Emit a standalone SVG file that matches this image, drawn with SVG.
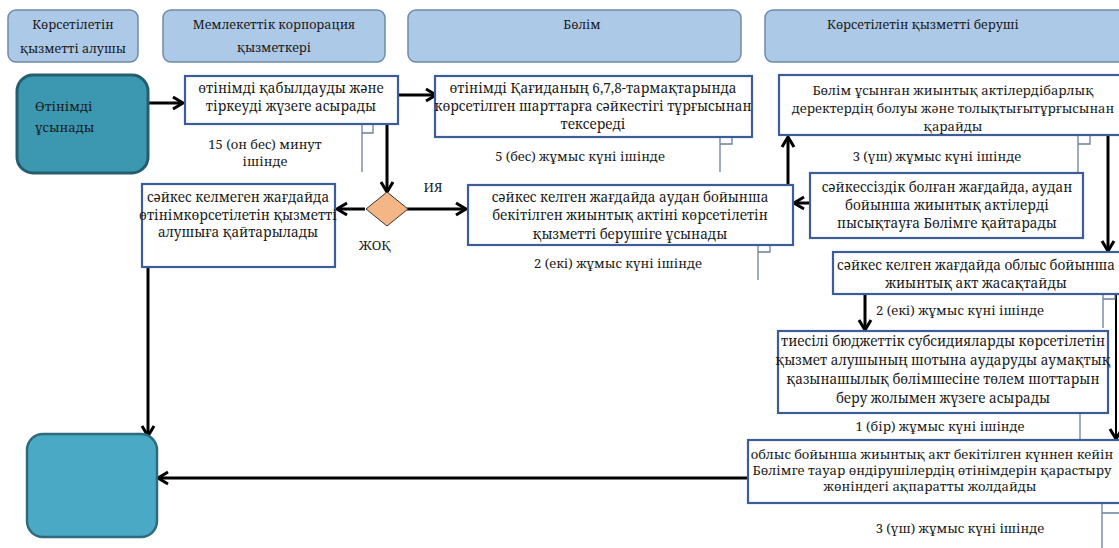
<svg xmlns="http://www.w3.org/2000/svg" width="1119" height="548" viewBox="0 0 1119 548">
<style>
text{fill:#1a1a1a;font-family:"Noto Serif","DejaVu Serif",serif;}
.hd{fill:#adc9e8;stroke:#6e8aa8;stroke-width:1.5;}
.hdt{font-size:12.5px;text-anchor:middle;}
.bx{fill:#fff;stroke:#3c5d99;stroke-width:2.2;}
.bt{font-size:13.5px;text-anchor:middle;}
.lb{font-size:13px;text-anchor:middle;}
.cn{fill:none;stroke:#000;stroke-width:3;}
.cn2{fill:none;stroke:#000;stroke-width:2;}
.br{fill:none;stroke:#6c7f9c;stroke-width:1.3;}
</style>
<defs>
<marker id="ah" markerUnits="userSpaceOnUse" markerWidth="16" markerHeight="16" viewBox="0 0 16 16" refX="13" refY="8" orient="auto">
<path d="M3,2 L13,8 L3,14" fill="none" stroke="#000" stroke-width="3"/>
</marker>
</defs>
<rect width="1119" height="548" fill="#fff"/>

<g id="lane-recipient"><rect class="hd" x="8" y="10" width="130" height="52" rx="8"/>
<text class="hdt" x="73" y="29">Көрсетілетін</text><text class="hdt" x="73" y="53">қызметті алушы</text></g>
<g id="lane-corp"><rect class="hd" x="163" y="10" width="222" height="52" rx="8"/>
<text class="hdt" x="274" y="29">Мемлекеттік корпорация</text><text class="hdt" x="274" y="52">қызметкері</text></g>
<g id="lane-dept"><rect class="hd" x="408" y="10" width="333" height="52" rx="8"/>
<text class="hdt" x="582" y="29">Бөлім</text></g>
<g id="lane-provider"><rect class="hd" x="765" y="10" width="370" height="52" rx="8"/>
<text class="hdt" x="923" y="29">Көрсетілетін қызметті беруші</text></g>

<g id="connectors">
<line class="cn" x1="148" y1="103" x2="183" y2="103" marker-end="url(#ah)"/>
<line class="cn" x1="398" y1="95" x2="436" y2="95" marker-end="url(#ah)"/>
<line class="cn" x1="387" y1="124" x2="387" y2="192" marker-end="url(#ah)"/>
<line class="cn" x1="407" y1="209" x2="466" y2="209" marker-end="url(#ah)"/>
<line class="cn" x1="365" y1="209" x2="337" y2="209" marker-end="url(#ah)"/>
<line class="cn" x1="148" y1="267" x2="148" y2="436" marker-end="url(#ah)"/>
<line class="cn" x1="788" y1="185" x2="788" y2="137" marker-end="url(#ah)"/>
<line class="cn" x1="810" y1="203" x2="794" y2="203" marker-end="url(#ah)"/>
<line class="cn" x1="1108" y1="135" x2="1108" y2="251" marker-end="url(#ah)"/>
<line class="cn" x1="865" y1="294" x2="865" y2="330" marker-end="url(#ah)"/>
<line class="cn2" x1="1116" y1="294" x2="1116" y2="439" marker-end="url(#ah)"/>
<line class="cn" x1="748" y1="478" x2="158" y2="478" marker-end="url(#ah)"/>
</g>

<g id="brackets">
<path class="br" d="M362,124 V172 M362,133 H373 V124"/>
<path class="br" d="M720,137 V172 M720,144 H732 V137"/>
<path class="br" d="M758,245 V280 M758,252 H770 V245"/>
<path class="br" d="M1078,135 V172 M1078,144 H1090 V135"/>
<path class="br" d="M1103,294 V328 M1103,299 H1115 V294"/>
<path class="br" d="M1080,402 V440 M1080,402 H1093 V413"/>
<path class="br" d="M1102,503 V548 M1102,513 H1119"/>
</g>

<g id="start"><rect x="17" y="75" width="131" height="98" rx="16" fill="#3b98b0" stroke="#245e6e" stroke-width="3"/>
<text x="35" y="111" style="font-size:13px">Өтінімді</text><text x="35" y="132" style="font-size:13px">ұсынады</text></g>

<g id="box-a"><rect class="bx" x="185" y="76" width="213" height="48"/>
<text class="bt" x="291" y="93">өтінімді қабылдауды және</text><text class="bt" x="291" y="111">тіркеуді жүзеге асырады</text></g>
<g id="time-a"><text class="lb" x="265" y="149">15 (он бес) минут</text><text class="lb" x="265" y="166">ішінде</text></g>

<g id="box-b"><rect class="bx" x="435" y="76" width="317" height="61"/>
<text class="bt" x="593" y="93">өтінімді Қағиданың 6,7,8-тармақтарында</text>
<text class="bt" x="593" y="111">көрсетілген шарттарға сәйкестігі тұрғысынан</text>
<text class="bt" x="593" y="129">тексереді</text></g>
<text class="lb" x="580" y="161">5 (бес) жұмыс күні ішінде</text>

<g id="decision"><path d="M387,192 L408,209 L387,226 L366,209 Z" fill="#f5b687" stroke="#333" stroke-width="1"/></g>
<text class="lb" x="433" y="192">ИЯ</text>
<text class="lb" x="375" y="250">ЖОҚ</text>

<g id="box-c"><rect class="bx" x="142" y="184" width="193" height="83"/>
<text class="bt" x="238" y="202">сәйкес келмеген жағдайда</text>
<text class="bt" x="238" y="220">өтінімкөрсетілетін қызметті</text>
<text class="bt" x="238" y="237">алушыға қайтарылады</text></g>

<g id="box-d"><rect class="bx" x="468" y="185" width="325" height="60"/>
<text class="bt" x="630" y="202">сәйкес келген жағдайда аудан бойынша</text>
<text class="bt" x="630" y="220">бекітілген жиынтық актіні көрсетілетін</text>
<text class="bt" x="630" y="239">қызметті берушіге ұсынады</text></g>
<text class="lb" x="618" y="268">2 (екі) жұмыс күні ішінде</text>

<g id="box-e"><rect class="bx" x="779" y="75" width="360" height="60"/>
<text class="bt" x="953" y="95" style="font-size:13px">Бөлім ұсынған жиынтық актілердібарлық</text>
<text class="bt" x="953" y="113" style="font-size:13px">деректердің болуы және толықтығытұрғысынан</text>
<text class="bt" x="953" y="131" style="font-size:13px">қарайды</text></g>
<text class="lb" x="937" y="161">3 (үш) жұмыс күні ішінде</text>

<g id="box-f"><rect class="bx" x="810" y="173" width="273" height="65"/>
<text class="bt" x="947" y="192">сәйкессіздік болған жағдайда, аудан</text>
<text class="bt" x="947" y="210">бойынша жиынтық актілерді</text>
<text class="bt" x="947" y="228">пысықтауға Бөлімге қайтарады</text></g>

<g id="box-g"><rect class="bx" x="833" y="252" width="300" height="42"/>
<text class="bt" x="976" y="270">сәйкес келген жағдайда облыс бойынша</text>
<text class="bt" x="976" y="288">жиынтық акт жасақтайды</text></g>
<text class="lb" x="960" y="315">2 (екі) жұмыс күні ішінде</text>

<g id="box-h"><rect class="bx" x="778" y="331" width="330" height="82"/>
<text class="bt" x="943" y="346">тиесілі бюджеттік субсидияларды көрсетілетін</text>
<text class="bt" x="943" y="365">қызмет алушының шотына аударуды аумақтық</text>
<text class="bt" x="943" y="384">қазынашылық бөлімшесіне төлем шоттарын</text>
<text class="bt" x="943" y="403">беру жолымен жүзеге асырады</text></g>
<text class="lb" x="940" y="431">1 (бір) жұмыс күні ішінде</text>

<g id="box-i"><rect class="bx" x="748" y="440" width="390" height="63"/>
<text class="bt" x="932" y="459" style="font-size:13px">облыс бойынша жиынтық акт бекітілген күннен кейін</text>
<text class="bt" x="932" y="475" style="font-size:13px">Бөлімге тауар өндірушілердің өтінімдерін қарастыру</text>
<text class="bt" x="930" y="491" style="font-size:13px">жөніндегі ақпаратты жолдайды</text></g>
<text class="lb" x="960" y="533">3 (үш) жұмыс күні ішінде</text>

<g id="end"><rect x="27" y="434" width="130" height="103" rx="16" fill="#4aa9c5" stroke="#2e6b7d" stroke-width="2.5"/></g>
</svg>
